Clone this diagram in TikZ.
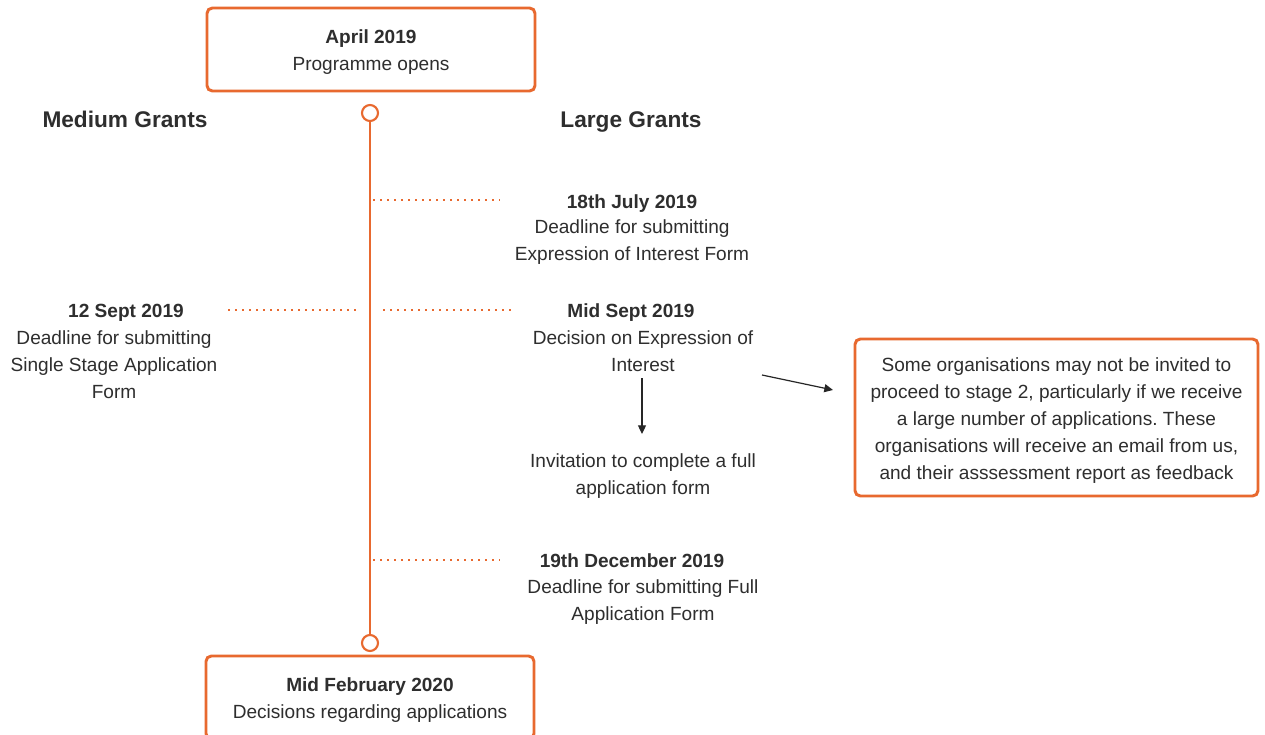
\documentclass[tikz,border=0pt]{standalone}
\usepackage{fontspec}
\setmainfont{Liberation Sans}
\usetikzlibrary{arrows.meta}
\definecolor{org}{HTML}{E8692F}
\definecolor{txt}{HTML}{2E2E2E}
\frenchspacing
\newcommand{\mytxtfont}{\fontsize{14.3}{20.25}\selectfont}
\newcommand{\myheadfont}{\fontsize{17}{20}\selectfont\bfseries}
\begin{document}
\begin{tikzpicture}[x=0.75pt,y=-0.75pt,
  box/.style={draw=org, fill=white, line width=2.2pt, rounded corners=4pt, align=center,
    text=txt, font=\mytxtfont, inner sep=0pt},
  timedot/.style={circle, draw=org, fill=white, line width=1.6pt, minimum size=12pt, inner sep=0pt},
  timeline/.style={draw=org, line width=2pt},
  dotline/.style={draw=org, line width=2pt, dash pattern=on 1.8pt off 3.45pt},
  head/.style={font=\myheadfont, text=txt, inner sep=0pt},
  lbl/.style={font=\mytxtfont, text=txt, align=center, inner sep=0pt},
  datelbl/.style={font=\mytxtfont\bfseries, text=txt, inner sep=0pt},
  arr/.style={draw=black!85, line width=0.9pt, -{Triangle[length=6.5pt,width=6pt]}}
]
\clip (0,0) rectangle (1265,735);
\fill[white] (0,0) rectangle (1265,735);

% timeline
\node[timedot] (c1) at (370,113) {};
\node[timedot] (c2) at (370,643) {};
\draw[timeline] (c1) -- (c2);

% boxes
\node[box, minimum width=246pt, minimum height=62.25pt] (start) at (371,49.5)
  {\rule{0pt}{13.5pt}\textbf{April 2019}\\Programme opens};
\node[box, minimum width=246pt, minimum height=62.25pt] (finish) at (370,697.5)
  {\rule{0pt}{13.5pt}\textbf{Mid February 2020}\\Decisions regarding applications};
\node[box, minimum width=302.25pt, minimum height=117.75pt] (note) at (1056.5,417.5)
  {\rule{0pt}{15pt}Some organisations may not be invited to\\
   proceed to stage 2, particularly if we receive\\
   a large number of applications. These\\
   organisations will receive an email from us,\\
   and their asssessment report as feedback};

% headings
\node[head] (mg) at (125,119) {Medium Grants};
\node[head] (lg) at (631,122) {Large Grants};

% dotted ticks
\coordinate (d1a) at (373,200); \coordinate (d1b) at (500,200);
\coordinate (d2a) at (228,310); \coordinate (d2b) at (356,310);
\coordinate (d3a) at (383,310); \coordinate (d3b) at (512,310);
\coordinate (d4a) at (373,560); \coordinate (d4b) at (500,560);
\draw[dotline] (d1a) -- (d1b);
\draw[dotline] (d2a) -- (d2b);
\draw[dotline] (d3a) -- (d3b);
\draw[dotline] (d4a) -- (d4b);

% events
\node[datelbl] (e1d) at (632,204) {18th July 2019};
\node[lbl] (e1t) at (632,242) {Deadline for submitting\\Expression of Interest Form};

\node[datelbl] (e2d) at (126,313) {12 Sept 2019};
\node[lbl] (e2t) at (114,365) {Deadline for submitting\\Single Stage Application\\Form};

\node[datelbl] (e3d) at (631,313) {Mid Sept 2019};
\node[lbl] (e3t) at (643,351) {Decision on Expression of\\Interest};

\node[lbl] (e4t) at (643,476) {Invitation to complete a full\\application form};

\node[datelbl] (e5d) at (632,561) {19th December 2019};
\node[lbl] (e5t) at (643,602.5) {Deadline for submitting Full\\Application Form};

% arrows
\coordinate (a1s) at (642,378); \coordinate (a1e) at (642,434);
\coordinate (a2s) at (762,375); \coordinate (a2e) at (833,390);
\draw[arr] (a1s) -- (a1e);
\draw[arr] (a2s) -- (a2e);
\end{tikzpicture}
\end{document}
